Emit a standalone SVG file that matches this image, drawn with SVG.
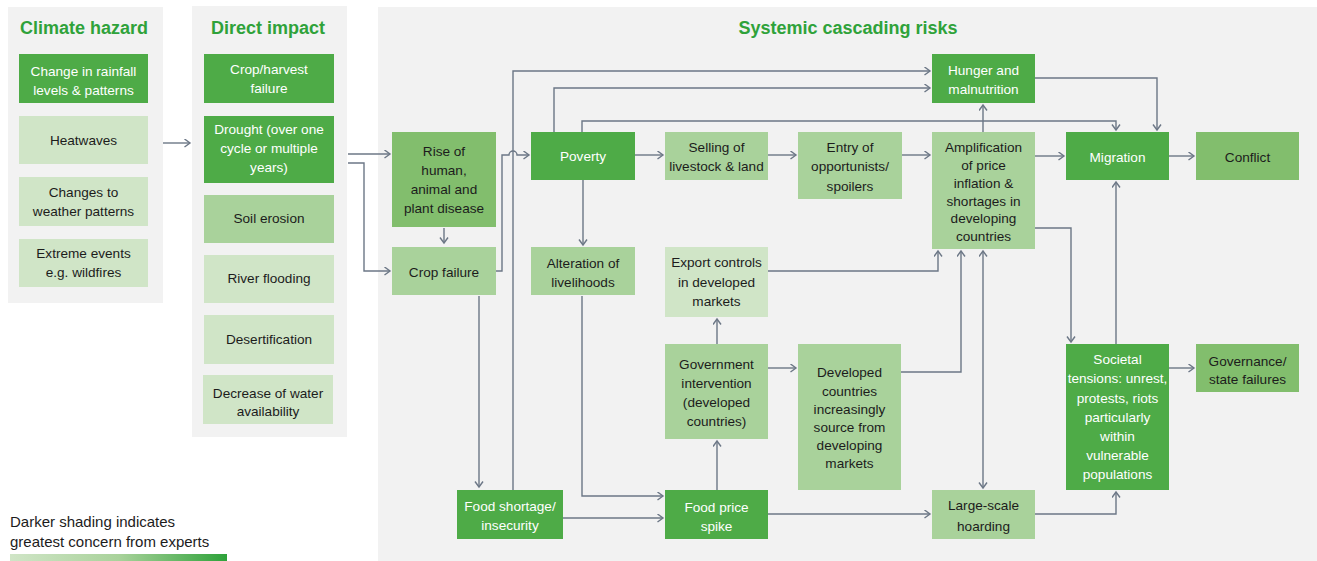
<svg xmlns="http://www.w3.org/2000/svg" width="1317" height="561" viewBox="0 0 1317 561">
<style>
.panel{fill:#f2f2f2}
.d{fill:#4eab47}
.m{fill:#82be6d}
.l{fill:#a9d29b}
.x{fill:#d0e5c7}
text{font-family:"Liberation Sans",Arial,sans-serif;font-size:13.6px;text-anchor:middle;fill:#1c1c1c}
.w{fill:#ffffff}
.title{font-size:18px;font-weight:bold;fill:#2fa23a}
.legend{font-size:15px;text-anchor:start;fill:#1c1c1c}
.c{fill:none;stroke:#6c7786;stroke-width:1.4}
</style>
<defs>
<marker id="ah" markerUnits="userSpaceOnUse" markerWidth="10" markerHeight="10" refX="6" refY="4.5" orient="auto-start-reverse" viewBox="0 0 10 10">
<path d="M0.5,0.5 L6,4.5 L0.5,8.5" fill="none" stroke="#6c7786" stroke-width="1.4"/>
</marker>
<linearGradient id="lg" x1="0" y1="0" x2="1" y2="0">
<stop offset="0" stop-color="#d0e5c7"/>
<stop offset="0.5" stop-color="#a9d29b"/>
<stop offset="1" stop-color="#2ea23a"/>
</linearGradient>
</defs>

<rect class="panel" x="8" y="7" width="155" height="296"/>
<rect class="panel" x="192" y="6" width="155" height="431"/>
<rect class="panel" x="378" y="7" width="939" height="554"/>

<text class="title" x="84" y="34">Climate hazard</text>
<text class="title" x="268" y="34">Direct impact</text>
<text class="title" x="848" y="34">Systemic cascading risks</text>

<g id="connectors">
<path class="c" d="M163,143 H190" marker-end="url(#ah)"/>
<path class="c" d="M348,154 H390" marker-end="url(#ah)"/>
<path class="c" d="M348,163 H364 V271 H390" marker-end="url(#ah)"/>
<path class="c" d="M444,228 V243" marker-end="url(#ah)"/>
<path class="c" d="M496,271 H502 V155 H509 A4,4 0 0 1 517,155 H529" marker-end="url(#ah)"/>
<path class="c" d="M479,296 V487" marker-end="url(#ah)"/>
<path class="c" d="M513,490 V71 H930" marker-end="url(#ah)"/>
<path class="c" d="M554,132 V88 H930" marker-end="url(#ah)"/>
<path class="c" d="M582,132 V121 H1116 V130" marker-end="url(#ah)"/>
<path class="c" d="M983,132 V105" marker-end="url(#ah)"/>
<path class="c" d="M1035,78 H1157 V130" marker-end="url(#ah)"/>
<path class="c" d="M635,155 H663" marker-end="url(#ah)"/>
<path class="c" d="M768,155 H796" marker-end="url(#ah)"/>
<path class="c" d="M902,155 H930" marker-end="url(#ah)"/>
<path class="c" d="M1035,156 H1064" marker-end="url(#ah)"/>
<path class="c" d="M1169,156 H1194" marker-end="url(#ah)"/>
<path class="c" d="M583,180 V245" marker-end="url(#ah)"/>
<path class="c" d="M582,296 V496 H663" marker-end="url(#ah)"/>
<path class="c" d="M563,518 H663" marker-end="url(#ah)"/>
<path class="c" d="M717,490 V441" marker-end="url(#ah)"/>
<path class="c" d="M717,344 V319" marker-end="url(#ah)"/>
<path class="c" d="M768,368 H796" marker-end="url(#ah)"/>
<path class="c" d="M768,271 H938 V251" marker-end="url(#ah)"/>
<path class="c" d="M901,372 H961 V251" marker-end="url(#ah)"/>
<path class="c" d="M983,251 V488" marker-start="url(#ah)" marker-end="url(#ah)"/>
<path class="c" d="M768,514 H930" marker-end="url(#ah)"/>
<path class="c" d="M1035,514 H1116 V492" marker-end="url(#ah)"/>
<path class="c" d="M1035,228 H1071 V342" marker-end="url(#ah)"/>
<path class="c" d="M1116,344 V182" marker-end="url(#ah)"/>
<path class="c" d="M1169,368 H1194" marker-end="url(#ah)"/>
</g>

<g id="n-rainfall"><rect class="d" x="19" y="54" width="129" height="49"/><text class="w" x="83.5" y="76">Change in rainfall</text><text class="w" x="83.5" y="94.5">levels &amp; patterns</text></g>
<g id="n-heatwaves"><rect class="x" x="19" y="116" width="129" height="48"/><text x="83.5" y="145">Heatwaves</text></g>
<g id="n-weather"><rect class="x" x="19" y="177" width="129" height="49"/><text x="83.5" y="197">Changes to</text><text x="83.5" y="215.5">weather patterns</text></g>
<g id="n-extreme"><rect class="x" x="19" y="239" width="129" height="48"/><text x="83.5" y="258">Extreme events</text><text x="83.5" y="276.5">e.g. wildfires</text></g>

<g id="n-harvest"><rect class="d" x="204" y="54" width="130" height="49"/><text class="w" x="269" y="74">Crop/harvest</text><text class="w" x="269" y="93">failure</text></g>
<g id="n-drought"><rect class="d" x="204" y="116" width="130" height="67"/><text class="w" x="269" y="134">Drought (over one</text><text class="w" x="269" y="153">cycle or multiple</text><text class="w" x="269" y="172">years)</text></g>
<g id="n-soil"><rect class="l" x="204" y="195" width="130" height="48"/><text x="269" y="223">Soil erosion</text></g>
<g id="n-river"><rect class="x" x="204" y="255" width="130" height="48"/><text x="269" y="283">River flooding</text></g>
<g id="n-desert"><rect class="x" x="204" y="315" width="130" height="49"/><text x="269" y="344">Desertification</text></g>
<g id="n-water"><rect class="x" x="203" y="375" width="130" height="49"/><text x="268" y="398">Decrease of water</text><text x="268" y="416">availability</text></g>

<g id="n-disease"><rect class="m" x="392" y="132" width="104" height="95"/><text x="444" y="156">Rise of</text><text x="444" y="175">human,</text><text x="444" y="194">animal and</text><text x="444" y="213">plant disease</text></g>
<g id="n-cropfail"><rect class="l" x="392" y="247" width="104" height="48"/><text x="444" y="277">Crop failure</text></g>
<g id="n-poverty"><rect class="d" x="531" y="132" width="104" height="48"/><text class="w" x="583" y="161">Poverty</text></g>
<g id="n-alteration"><rect class="l" x="531" y="247" width="104" height="48"/><text x="583" y="268">Alteration of</text><text x="583" y="287">livelihoods</text></g>
<g id="n-selling"><rect class="l" x="665" y="132" width="103" height="48"/><text x="716.5" y="152">Selling of</text><text x="716.5" y="171">livestock &amp; land</text></g>
<g id="n-entry"><rect class="l" x="798" y="132" width="104" height="67"/><text x="850" y="152">Entry of</text><text x="850" y="171">opportunists/</text><text x="850" y="191">spoilers</text></g>
<g id="n-amplification"><rect class="l" x="932" y="132" width="103" height="117"/><text x="983.5" y="151.5">Amplification</text><text x="983.5" y="169.5">of price</text><text x="983.5" y="187.5">inflation &amp;</text><text x="983.5" y="205.5">shortages in</text><text x="983.5" y="223">developing</text><text x="983.5" y="241">countries</text></g>
<g id="n-hunger"><rect class="d" x="932" y="54" width="103" height="49"/><text class="w" x="983.5" y="75">Hunger and</text><text class="w" x="983.5" y="94">malnutrition</text></g>
<g id="n-migration"><rect class="d" x="1066" y="132" width="103" height="48"/><text class="w" x="1117.5" y="162">Migration</text></g>
<g id="n-conflict"><rect class="m" x="1196" y="132" width="103" height="48"/><text x="1247.5" y="162">Conflict</text></g>
<g id="n-export"><rect class="x" x="665" y="247" width="103" height="70"/><text x="716.5" y="267">Export controls</text><text x="716.5" y="286.5">in developed</text><text x="716.5" y="306">markets</text></g>
<g id="n-government"><rect class="l" x="665" y="344" width="103" height="95"/><text x="716.5" y="369">Government</text><text x="716.5" y="388">intervention</text><text x="716.5" y="407">(developed</text><text x="716.5" y="426">countries)</text></g>
<g id="n-developed"><rect class="l" x="798" y="344" width="103" height="146"/><text x="849.5" y="377">Developed</text><text x="849.5" y="395.5">countries</text><text x="849.5" y="414">increasingly</text><text x="849.5" y="432">source from</text><text x="849.5" y="450">developing</text><text x="849.5" y="468">markets</text></g>
<g id="n-foodshortage"><rect class="d" x="457" y="490" width="106" height="49"/><text class="w" x="510" y="511">Food shortage/</text><text class="w" x="510" y="530">insecurity</text></g>
<g id="n-pricespike"><rect class="d" x="665" y="490" width="103" height="49"/><text class="w" x="716.5" y="512">Food price</text><text class="w" x="716.5" y="531">spike</text></g>
<g id="n-hoarding"><rect class="l" x="932" y="490" width="103" height="49"/><text x="983.5" y="510">Large-scale</text><text x="983.5" y="530.5">hoarding</text></g>
<g id="n-societal"><rect class="d" x="1066" y="344" width="103" height="146"/><text class="w" x="1117.5" y="364">Societal</text><text class="w" x="1117.5" y="383">tensions: unrest,</text><text class="w" x="1117.5" y="402.5">protests, riots</text><text class="w" x="1117.5" y="421.5">particularly</text><text class="w" x="1117.5" y="441">within</text><text class="w" x="1117.5" y="460">vulnerable</text><text class="w" x="1117.5" y="479">populations</text></g>
<g id="n-governance"><rect class="m" x="1196" y="344" width="103" height="48"/><text x="1247.5" y="366">Governance/</text><text x="1247.5" y="384">state failures</text></g>

<g id="legend">
<text class="legend" x="10" y="527">Darker shading indicates</text>
<text class="legend" x="10" y="547">greatest concern from experts</text>
<rect x="10" y="554" width="217" height="7" fill="url(#lg)"/>
</g>
</svg>
